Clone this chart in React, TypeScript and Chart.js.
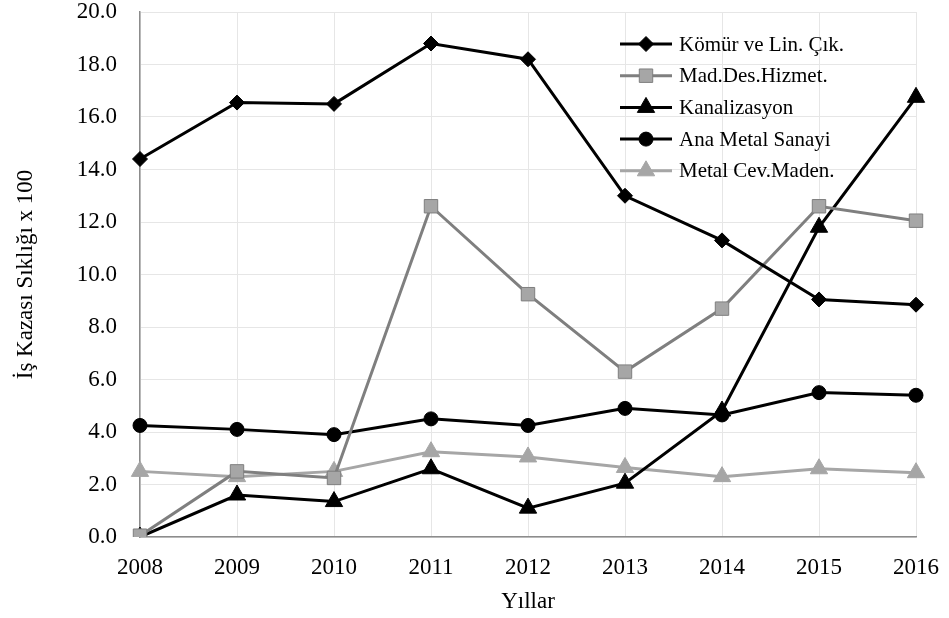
import React, { useEffect, useRef } from "react";
import { Chart, registerables } from "chart.js";
import { drawPoint } from "chart.js/helpers";

Chart.register(...registerables);

const years = ["2008", "2009", "2010", "2011", "2012", "2013", "2014", "2015", "2016"];
const komur = [14.4, 16.55, 16.5, 18.8, 18.2, 13.0, 11.3, 9.05, 8.85];
const madDes = [0.05, 2.5, 2.25, 12.6, 9.25, 6.3, 8.7, 12.6, 12.05];
const kanalizasyon = [0.0, 1.6, 1.35, 2.6, 1.1, 2.05, 4.8, 11.8, 16.75];
const anaMetal = [4.25, 4.1, 3.9, 4.5, 4.25, 4.9, 4.65, 5.5, 5.4];
const metalCev = [2.5, 2.3, 2.5, 3.25, 3.05, 2.65, 2.3, 2.6, 2.45];
const yTitle = "İş Kazası Sıklığı x 100";
const xTitle = "Yıllar";

const FONT = "'Liberation Serif', 'Times New Roman', serif";

const insideLegend = {
  id: "insideLegend",
  afterDraw(chart: any) {
    const ctx = chart.ctx;
    const x0 = 620;
    const y0 = 44;
    const step = 31.7;
    ctx.save();
    chart.data.datasets.forEach((ds: any, i: number) => {
      const y = y0 + i * step;
      ctx.strokeStyle = ds.borderColor;
      ctx.lineWidth = 3;
      ctx.beginPath();
      ctx.moveTo(x0, y);
      ctx.lineTo(x0 + 52, y);
      ctx.stroke();
      ctx.fillStyle = ds.pointBackgroundColor;
      ctx.strokeStyle = ds.pointBorderColor;
      ctx.lineWidth = 1;
      drawPoint(ctx, { pointStyle: ds.pointStyle, radius: ds.pointRadius, rotation: 0, borderWidth: 1 }, x0 + 26, y);
      ctx.fillStyle = "#000";
      ctx.font = `21px ${FONT}`;
      ctx.textBaseline = "middle";
      ctx.textAlign = "left";
      ctx.fillText(ds.label, x0 + 59, y + 1);
    });
    ctx.restore();
  },
};

export default function App() {
  const ref = useRef<HTMLCanvasElement>(null);
  useEffect(() => {
    document.body.style.margin = "0";
    const mk = (label: string, data: number[], line: string, fill: string, border: string, style: string, r: number) => ({
      label,
      data,
      borderColor: line,
      borderWidth: 3,
      pointStyle: style,
      pointRadius: r,
      pointBackgroundColor: fill,
      pointBorderColor: border,
      pointBorderWidth: 1,
      tension: 0,
    });
    const chart = new Chart(ref.current!, {
      type: "line",
      data: {
        labels: years,
        datasets: [
          mk("Kömür ve Lin. Çık.", komur, "#000000", "#000000", "#000000", "rectRot", 7.5),
          mk("Mad.Des.Hizmet.", madDes, "#7f7f7f", "#a6a6a6", "#7f7f7f", "rect", 9.5),
          mk("Kanalizasyon", kanalizasyon, "#000000", "#000000", "#000000", "triangle", 10),
          mk("Ana Metal Sanayi", anaMetal, "#000000", "#000000", "#000000", "circle", 7),
          mk("Metal Cev.Maden.", metalCev, "#a6a6a6", "#a6a6a6", "#a6a6a6", "triangle", 10),
        ] as any,
      },
      options: {
        animation: false,
        responsive: false,
        layout: { padding: { top: 12, right: 33, left: 0, bottom: 0 } },
        plugins: { legend: { display: false }, tooltip: { enabled: false } },
        scales: {
          x: {
            offset: false,
            grid: { color: "#e6e6e6", lineWidth: 1, drawTicks: true, tickLength: 8, tickColor: "rgba(0,0,0,0)" },
            border: { color: "#8c8c8c", width: 1.5 },
            ticks: { color: "#000", font: { family: FONT, size: 23 }, padding: 9, maxRotation: 0 },
            title: { display: true, text: xTitle, color: "#000", font: { family: FONT, size: 23 }, padding: { top: 2, bottom: 2 } },
            afterFit: (s: any) => { s.height = 81; },
          },
          y: {
            min: 0,
            max: 20,
            grid: { color: "#e6e6e6", lineWidth: 1, drawTicks: true, tickLength: 22.5, tickColor: "rgba(0,0,0,0)" },
            border: { color: "#8c8c8c", width: 1.5 },
            ticks: {
              stepSize: 2,
              color: "#000",
              font: { family: FONT, size: 23, lineHeight: 1 },
              padding: 0.5,
              callback: (v: any) => Number(v).toFixed(1),
            },
            title: { display: true, text: yTitle, color: "#000", font: { family: FONT, size: 23 }, padding: { top: 12, bottom: 14 } },
            afterFit: (s: any) => { s.width = 140; },
          },
        },
      },
      plugins: [insideLegend],
    });
    return () => chart.destroy();
  }, []);
  return (
    <div style={{ width: 949, height: 618 }}>
      <canvas ref={ref} width={949} height={618} style={{ display: "block" }} />
    </div>
  );
}
